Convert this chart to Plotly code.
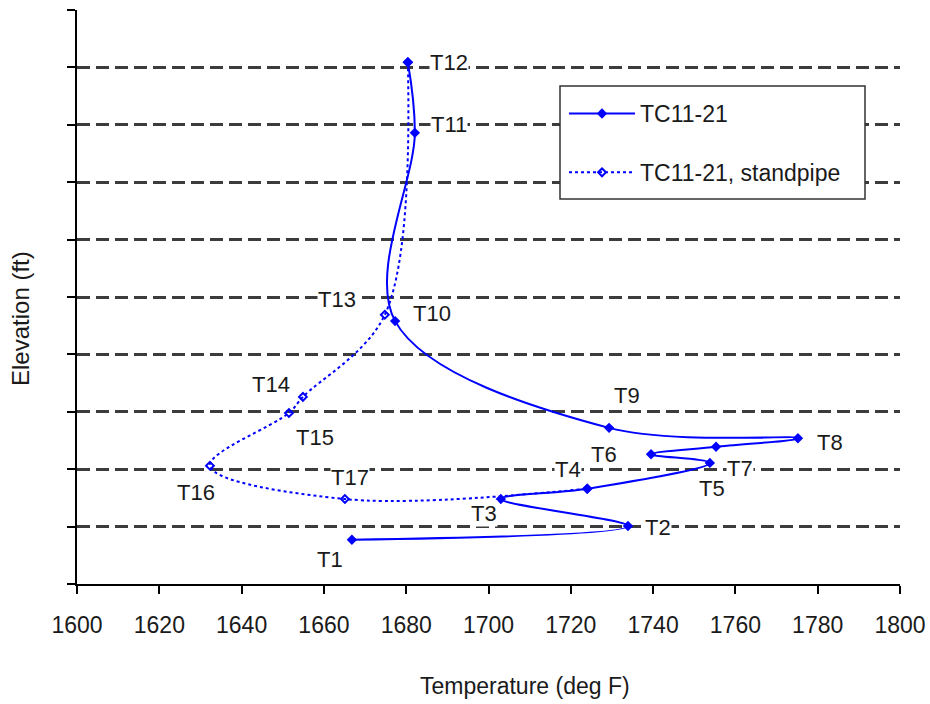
import plotly.graph_objects as go

# Thermocouple readings along the main line (T1..T12)
main_labels = ["T1", "T2", "T3", "T4", "T5", "T6", "T7", "T8", "T9", "T10", "T11", "T12"]
main_temp = [1666.8, 1733.9, 1703.0, 1724.0, 1753.8, 1739.5, 1755.3, 1775.2, 1729.3, 1677.3, 1682.1, 1680.4]
main_elev = [0.77, 1.01, 1.48, 1.66, 2.11, 2.26, 2.39, 2.54, 2.72, 4.58, 7.86, 9.09]

# Standpipe readings (T12 -> T13..T17 -> T4)
pipe_labels = ["T12", "T13", "T14", "T15", "T16", "T17", "T4"]
pipe_temp = [1680.4, 1674.8, 1654.9, 1651.5, 1632.3, 1665.1, 1724.0]
pipe_elev = [9.09, 4.69, 3.26, 2.98, 2.06, 1.48, 1.66]

# Label text anchor points (temperature, elevation)
label_text = ["T1", "T2", "T3", "T4", "T5", "T6", "T7", "T8", "T9", "T10", "T11", "T12",
              "T13", "T14", "T15", "T16", "T17"]
label_temp = [1661.5, 1741.2, 1698.9, 1719.3, 1754.3, 1728.0, 1761.1, 1783.0, 1733.7, 1686.3,
              1690.4, 1690.4, 1663.2, 1647.1, 1657.8, 1628.9, 1666.3]
label_elev = [0.42, 0.98, 1.22, 2.00, 1.67, 2.25, 2.02, 2.46, 3.29, 4.72,
              8.01, 9.09, 4.95, 3.48, 2.56, 1.60, 1.85]

x_ticks = list(range(1600, 1801, 20))

FONT = "Liberation Sans, Arial, sans-serif"
TXT = "#1a1a1a"
BLUE = "#0000FF"

# plot area in pixels: left 77, right 900, top 10, bottom 584
PW, PH = 823, 574


def px_x(p):
    return (p - 77) / PW


def px_y(p):
    return (584 - p) / PH


fig = go.Figure()

fig.add_trace(go.Scatter(
    x=pipe_temp, y=pipe_elev, name="TC11-21, standpipe",
    mode="lines+markers",
    line=dict(color=BLUE, width=2, dash="dot", shape="spline", smoothing=1),
    marker=dict(symbol="diamond-open", size=6, color=BLUE, line=dict(width=2, color=BLUE)),
    legendrank=2, legendgroup="b",
))

fig.add_trace(go.Scatter(
    x=main_temp, y=main_elev, name="TC11-21",
    mode="lines+markers",
    line=dict(color=BLUE, width=2, shape="spline", smoothing=1),
    marker=dict(symbol="diamond", size=8, color=BLUE),
    legendrank=1, legendgroup="a",
))

for t, x, y in zip(label_text, label_temp, label_elev):
    fig.add_annotation(x=x, y=y, text=t, showarrow=False,
                       font=dict(family=FONT, size=22, color=TXT),
                       bgcolor="white", borderpad=0)

# Axis titles
fig.add_annotation(x=px_x(525), y=px_y(686), xref="paper", yref="paper",
                   xanchor="center", yanchor="middle",
                   text="Temperature (deg F)", showarrow=False,
                   font=dict(family=FONT, size=23, color=TXT))
fig.add_annotation(x=px_x(20), y=px_y(318), xref="paper", yref="paper",
                   xanchor="center", yanchor="middle",
                   text="Elevation (ft)", showarrow=False, textangle=-90,
                   font=dict(family=FONT, size=24, color=TXT))

# Legend frame
fig.add_shape(type="rect", xref="paper", yref="paper",
              x0=px_x(560), x1=px_x(865), y0=px_y(199), y1=px_y(86),
              fillcolor="white", line=dict(color="#333333", width=1.5), layer="above")

fig.update_xaxes(
    range=[1599.99, 1800.01], tickvals=x_ticks, ticks="outside", ticklen=8, tickwidth=1.5,
    tickcolor="black", showline=True, linecolor="black", linewidth=2,
    showgrid=False, zeroline=False, ticklabelstandoff=11, automargin=False,
    tickfont=dict(family=FONT, size=23, color=TXT),
)
fig.update_yaxes(
    range=[0, 10], dtick=1, tick0=0, ticks="outside", ticklen=8, tickwidth=1.5,
    tickcolor="black", showline=True, linecolor="black", linewidth=2,
    showticklabels=False, zeroline=False, automargin=False,
    showgrid=True, gridcolor="#3c3c3c", gridwidth=3, griddash="13px,6px",
)

fig.update_layout(
    width=930, height=704,
    margin=dict(l=77, r=30, t=10, b=120, autoexpand=False),
    plot_bgcolor="white", paper_bgcolor="white",
    showlegend=True,
    legend=dict(
        x=px_x(564), y=px_y(92), xanchor="left", yanchor="top",
        bgcolor="rgba(0,0,0,0)", borderwidth=0,
        font=dict(family=FONT, size=23, color=TXT),
        traceorder="grouped", tracegroupgap=26, itemwidth=66,
    ),
)

fig.write_html("out.html")
